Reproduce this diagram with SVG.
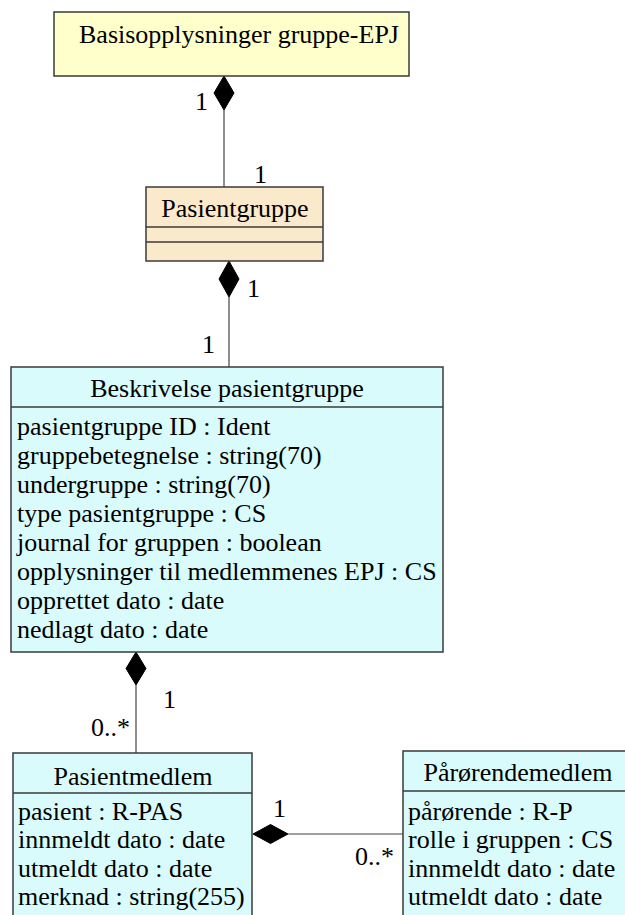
<svg xmlns="http://www.w3.org/2000/svg" width="625" height="915" viewBox="0 0 625 915">
  <style>
    text { font-family: "Liberation Serif", "Times New Roman", serif; font-size: 26px; fill: #000; }
    .box { stroke: #3a3a3a; stroke-width: 1.5; }
    .div { stroke: #3a3a3a; stroke-width: 1.5; }
    .yellow { fill: #ffffcc; }
    .peach { fill: #fbe9cb; }
    .cyan { fill: #d9fbfb; }
    .title { text-anchor: middle; }
    .conn line { stroke: #444; stroke-width: 1.2; }
    .conn polygon { fill: #000; stroke: #000; stroke-width: 1; }
  </style>

  <rect width="625" height="915" fill="#ffffff"/>

  <!-- connectors with composition diamonds and multiplicities -->
  <g id="connectors" class="conn">
    <line x1="224" y1="110" x2="224" y2="187"/>
    <polygon points="224,76 234,93 224,110 214,93"/>
    <text x="195" y="110">1</text>
    <text x="254" y="183">1</text>

    <line x1="229" y1="297" x2="229" y2="367"/>
    <polygon points="229,261 239,279 229,297 219,279"/>
    <text x="247" y="297">1</text>
    <text x="202" y="353">1</text>

    <line x1="136" y1="685" x2="136" y2="753"/>
    <polygon points="136,652 146,668.5 136,685 126,668.5"/>
    <text x="163" y="708">1</text>
    <text x="130" y="736" text-anchor="end">0..*</text>

    <line x1="288" y1="834" x2="403" y2="834"/>
    <polygon points="253,834 270.5,824.5 288,834 270.5,843.5"/>
    <text x="273" y="817">1</text>
    <text x="394" y="865" text-anchor="end">0..*</text>
  </g>

  <g id="basisopplysninger">
    <rect class="box yellow" x="54" y="12" width="355" height="64"/>
    <text class="title" x="239" y="43">Basisopplysninger gruppe-EPJ</text>
  </g>

  <g id="pasientgruppe">
    <rect class="box peach" x="146" y="187" width="177" height="74"/>
    <line class="div" x1="146" y1="227" x2="323" y2="227"/>
    <line class="div" x1="146" y1="242" x2="323" y2="242"/>
    <text class="title" x="235" y="217">Pasientgruppe</text>
  </g>

  <g id="beskrivelse-pasientgruppe">
    <rect class="box cyan" x="11" y="367" width="432" height="285"/>
    <line class="div" x1="11" y1="407" x2="443" y2="407"/>
    <text class="title" x="227" y="397">Beskrivelse pasientgruppe</text>
    <text x="17" y="435">pasientgruppe ID : Ident</text>
    <text x="17" y="464">gruppebetegnelse : string(70)</text>
    <text x="17" y="493">undergruppe : string(70)</text>
    <text x="17" y="522">type pasientgruppe : CS</text>
    <text x="17" y="551">journal for gruppen : boolean</text>
    <text x="17" y="580">opplysninger til medlemmenes EPJ : CS</text>
    <text x="17" y="609">opprettet dato : date</text>
    <text x="17" y="638">nedlagt dato : date</text>
  </g>

  <g id="pasientmedlem">
    <rect class="box cyan" x="13" y="753" width="239" height="180"/>
    <line class="div" x1="13" y1="793" x2="252" y2="793"/>
    <text class="title" x="133" y="785">Pasientmedlem</text>
    <text x="18" y="820">pasient : R-PAS</text>
    <text x="18" y="848">innmeldt dato : date</text>
    <text x="18" y="877">utmeldt dato : date</text>
    <text x="18" y="905">merknad : string(255)</text>
  </g>

  <g id="parorendemedlem">
    <rect class="box cyan" x="403" y="751" width="240" height="182"/>
    <line class="div" x1="403" y1="791" x2="643" y2="791"/>
    <text class="title" x="518" y="781">Pårørendemedlem</text>
    <text x="408" y="820">pårørende : R-P</text>
    <text x="408" y="848">rolle i gruppen : CS</text>
    <text x="408" y="877">innmeldt dato : date</text>
    <text x="408" y="905">utmeldt dato : date</text>
  </g>
</svg>
